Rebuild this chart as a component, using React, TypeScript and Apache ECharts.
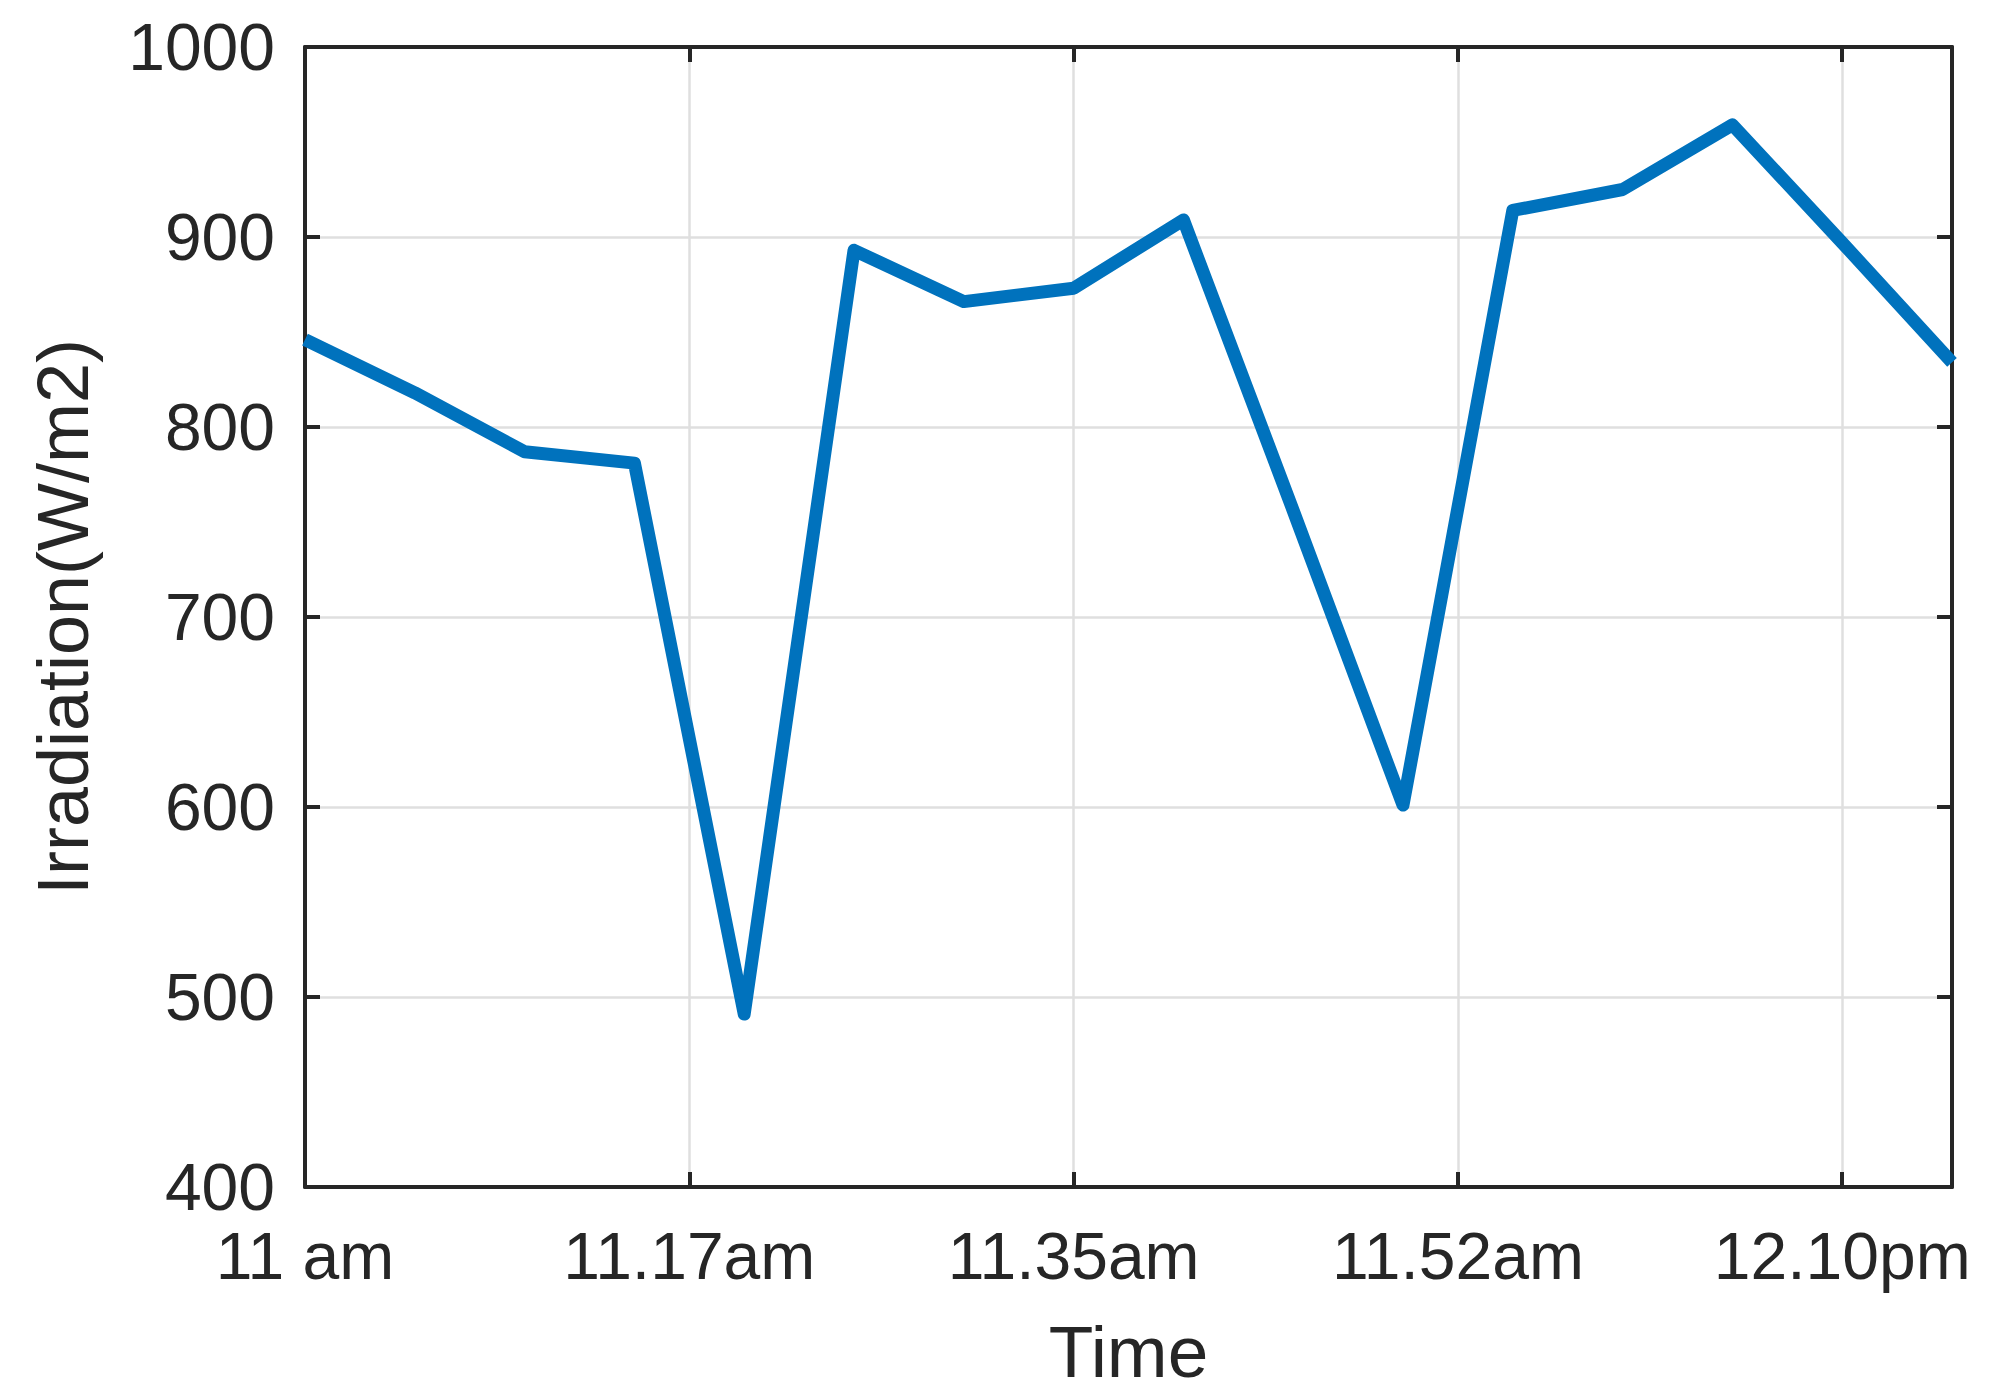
import React, { useEffect, useRef } from "react";
import * as echarts from "echarts";

// minutes after 11:00 am
const minutes = [0, 5, 10, 15, 20, 25, 30, 35, 40, 45, 50, 55, 60, 65, 70, 75];
const irradiation = [846, 818, 787, 781, 491, 893, 866, 873, 909, 756, 601, 914, 925, 959, 897, 834];
const xTickValues = [0, 17.5, 35, 52.5, 70];
const xTickLabels = ["11 am", "11.17am", "11.35am", "11.52am", "12.10pm"];
const yTicks = [400, 500, 600, 700, 800, 900, 1000];

const FONT = "'Liberation Sans', Arial, Helvetica, sans-serif";
const TEXT = "#262626";

export default function App() {
  const ref = useRef<HTMLDivElement>(null);
  useEffect(() => {
    if (!ref.current) return;
    const chart = echarts.init(ref.current, undefined, { renderer: "svg" });
    const common = {
      min: 0,
      max: 75,
      interval: 17.5,
    };
    const yCommon = {
      min: yTicks[0],
      max: yTicks[yTicks.length - 1],
      interval: 100,
    };
    const axisLine = { show: true, onZero: false, lineStyle: { color: TEXT, width: 4 } };
    const axisTick = { show: true, inside: true, length: 15, lineStyle: { color: TEXT, width: 4 } };
    chart.setOption({
      animation: false,
      backgroundColor: "#ffffff",
      grid: { left: 305, right: 39, top: 47, bottom: 213, containLabel: false },
      xAxis: [
        {
          type: "value",
          ...common,
          position: "bottom",
          name: "Time",
          nameLocation: "middle",
          nameGap: 128,
          nameTextStyle: { fontFamily: FONT, fontSize: 73, color: TEXT },
          axisLine,
          axisTick,
          axisLabel: {
            show: true,
            margin: 36,
            fontFamily: FONT,
            fontSize: 66,
            color: TEXT,
            showMaxLabel: false,
            formatter: (v: number) => {
              const i = xTickValues.findIndex((t) => Math.abs(t - v) < 1e-6);
              return i >= 0 ? xTickLabels[i] : "";
            },
          },
          splitLine: { show: true, lineStyle: { color: "#dfdfdf", width: 2.5 } },
        },
        {
          type: "value",
          ...common,
          position: "top",
          axisLine,
          axisTick,
          axisLabel: { show: false },
          splitLine: { show: false },
        },
      ],
      yAxis: [
        {
          type: "value",
          ...yCommon,
          position: "left",
          name: "Irradiation(W/m2)",
          nameLocation: "middle",
          nameGap: 206,
          nameTextStyle: { fontFamily: FONT, fontSize: 72, color: TEXT },
          axisLine,
          axisTick,
          axisLabel: {
            show: true,
            margin: 30,
            fontFamily: FONT,
            fontSize: 66,
            color: TEXT,
            formatter: (v: number) => String(v),
          },
          splitLine: { show: true, lineStyle: { color: "#dfdfdf", width: 2.5 } },
        },
        {
          type: "value",
          ...yCommon,
          position: "right",
          axisLine,
          axisTick,
          axisLabel: { show: false },
          splitLine: { show: false },
        },
      ],
      series: [
        {
          type: "line",
          xAxisIndex: 0,
          yAxisIndex: 0,
          data: minutes.map((m, i) => [m, irradiation[i]]),
          showSymbol: false,
          symbol: "none",
          lineStyle: { color: "#0072BD", width: 13, join: "round", cap: "butt" },
          clip: true,
          z: 3,
        },
      ],
    });
    return () => chart.dispose();
  }, []);
  return (
    <div
      ref={ref}
      style={{ position: "fixed", left: 0, top: 0, width: 1991, height: 1400, background: "#fff" }}
    />
  );
}
